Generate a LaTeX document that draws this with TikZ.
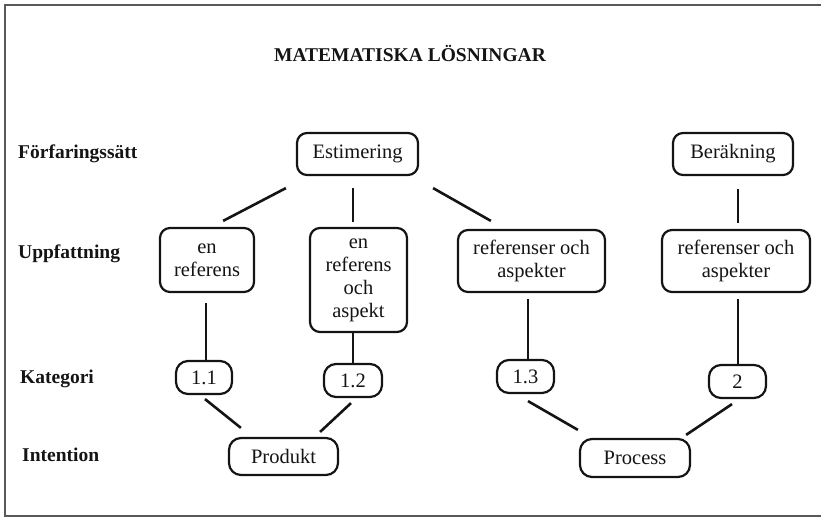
\documentclass[tikz,border=0pt]{standalone}
\usepackage{fontspec}
\setmainfont{Liberation Serif}
\usetikzlibrary{calc}
\definecolor{ink}{gray}{0.08}
\tikzset{
  every node/.style={text=ink},
  box/.style={draw=ink, line width=2.2pt, rounded corners=10pt, inner sep=0pt,
    align=center, font=\fontsize{20.5}{23}\selectfont},
  numbox/.style={box, rounded corners=12pt},
  link/.style={draw=ink, line width=2.6pt},
  rowlabel/.style={anchor=base west, inner sep=0pt, font=\fontsize{19.5}{23}\selectfont\bfseries},
}
\begin{document}
\begin{tikzpicture}[x=1pt, y=-1pt]
  \useasboundingbox (0,0) rectangle (821,519);
  % frame
  \draw[draw=gray!70!black, line width=2.6pt] (821,5) -- (5,5) -- (5,516) -- (821,516);

  % title and row labels
  \node[anchor=base, inner sep=0pt, font=\fontsize{19.5}{23}\selectfont\bfseries] (title) at (410,62) {MATEMATISKA LÖSNINGAR};
  \node[rowlabel] (lf) at (18,158) {Förfaringssätt};
  \node[rowlabel] (lu) at (18,258) {Uppfattning};
  \node[rowlabel] (lk) at (20,383) {Kategori};
  \node[rowlabel] (li) at (22,461) {Intention};

  % procedures
  \node[box, minimum width=121pt, minimum height=42pt] (est) at (357.5,154) {Estimering};
  \node[box, minimum width=120pt, minimum height=42pt] (ber) at (733,154) {Beräkning};

  % conceptions
  \node[box, minimum width=94pt, minimum height=64pt] (enref) at (207,260) {en\\referens};
  \node[box, minimum width=97pt, minimum height=104pt] (enrefoch) at (358.5,280) {en\\referens\\och\\aspekt};
  \node[box, minimum width=147pt, minimum height=62pt] (refasp1) at (531.5,261) {referenser och\\aspekter};
  \node[box, minimum width=148pt, minimum height=62pt] (refasp2) at (736,261) {referenser och\\aspekter};

  % categories
  \node[numbox, minimum width=56pt, minimum height=33pt] (k11) at (204,377.5) {1.1};
  \node[numbox, minimum width=58pt, minimum height=33pt] (k12) at (353,380.5) {1.2};
  \node[numbox, minimum width=57pt, minimum height=33pt] (k13) at (525.5,376.5) {1.3};
  \node[numbox, minimum width=57pt, minimum height=33pt] (k2) at (737.5,381.5) {2};

  % intentions
  \node[numbox, minimum width=109pt, minimum height=37pt] (prod) at (283.5,456.5) {Produkt};
  \node[numbox, minimum width=110pt, minimum height=38pt] (proc) at (635,458) {Process};

  % connectors
  \draw[link] ($(est.south west)+(-10,12)$) -- ($(enref.north east)+(-32,-6)$);
  \draw[link] ($(est.south)+(-4.5,12)$) -- ($(enrefoch.north)+(-5.5,-5)$);
  \draw[link] ($(est.south east)+(14,12)$) -- ($(refasp1.north west)+(34,-8)$);
  \draw[link] ($(ber.south)+(5,13)$) -- ($(refasp2.north)+(2,-6)$);

  \draw[link] ($(enref.south)+(-1,10)$) -- ($(k11.north)+(2,0)$);
  \draw[link] ($(enrefoch.south)+(-5.5,0)$) -- (k12.north);
  \draw[link] ($(refasp1.south)+(-3.5,6)$) -- ($(k13.north)+(2.5,0)$);
  \draw[link] ($(refasp2.south)+(2,6)$) -- ($(k2.north)+(0.5,0)$);

  \draw[link] ($(k11.south)+(1,4)$) -- ($(prod.north west)+(13,-9)$);
  \draw[link] ($(k12.south)+(-2,5)$) -- ($(prod.north east)+(-19,-5)$);
  \draw[link] ($(k13.south)+(2.5,7)$) -- ($(proc.north west)+(-1,-8)$);
  \draw[link] ($(k2.south)+(-5.5,5)$) -- ($(proc.north east)+(-5,-3)$);
\end{tikzpicture}
\end{document}
